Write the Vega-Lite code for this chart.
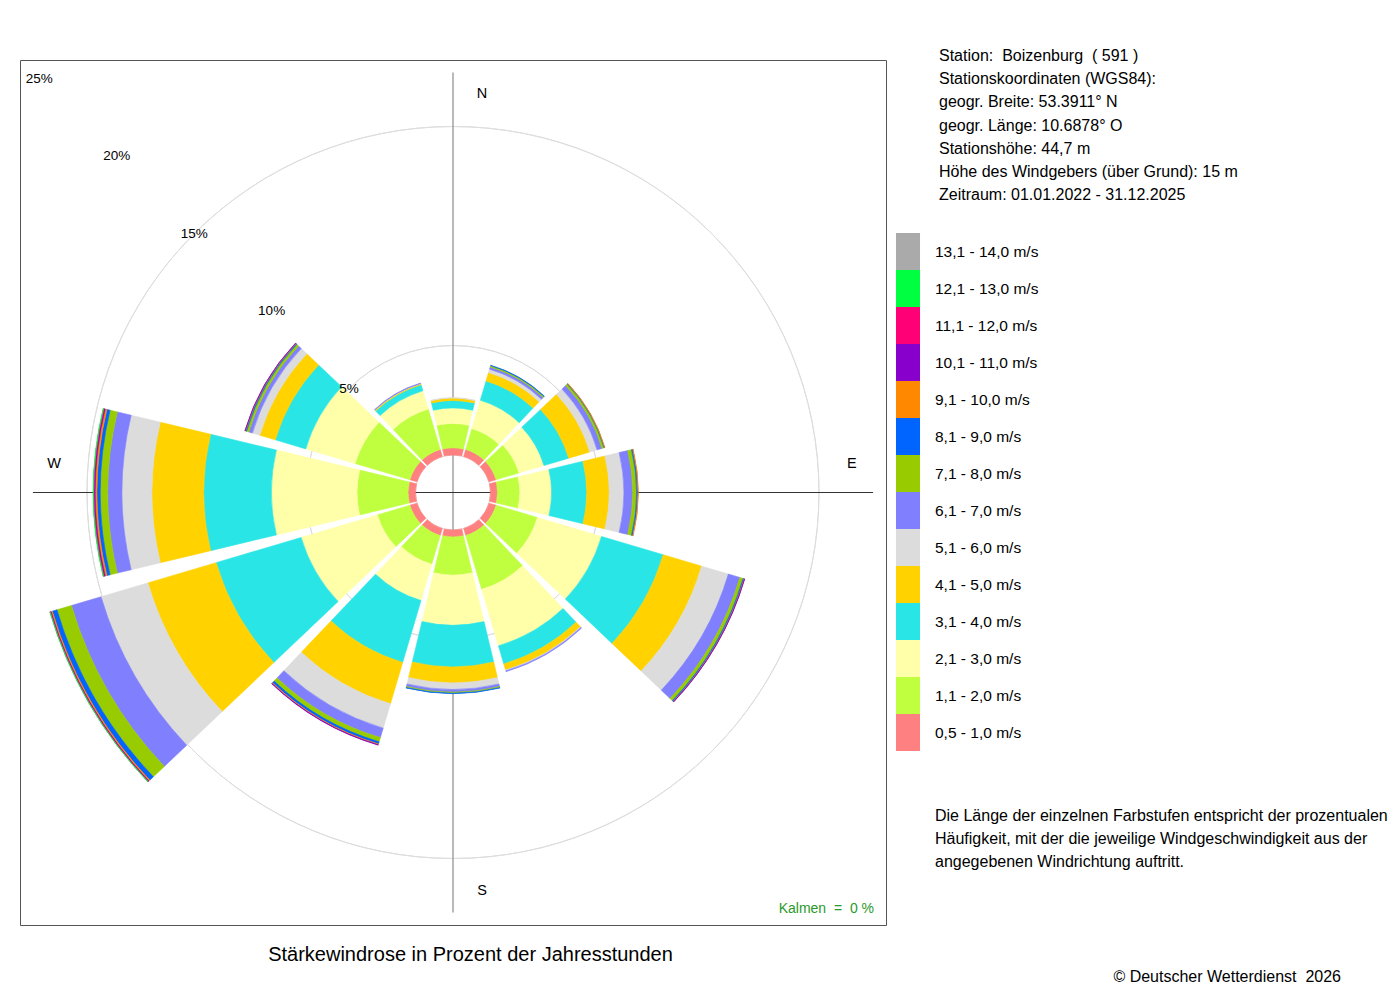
{
  "$schema": "https://vega.github.io/schema/vega-lite/v6.json",
  "width": 866,
  "height": 865,
  "autosize": {"type": "none"},
  "padding": {"left": 20, "top": 60, "right": 514, "bottom": 75},
  "background": "white",
  "view": {"stroke": "#555555", "strokeWidth": 1},
  "config": {"view": {"stroke": "#555555", "strokeWidth": 1}, "font": "Liberation Sans", "text": {"font": "Liberation Sans", "color": "#000000"}},
  "datasets": {
    "classes": [
      {"k": 1, "s": "0,5 - 1,0 m/s"}, {"k": 2, "s": "1,1 - 2,0 m/s"}, {"k": 3, "s": "2,1 - 3,0 m/s"},
      {"k": 4, "s": "3,1 - 4,0 m/s"}, {"k": 5, "s": "4,1 - 5,0 m/s"}, {"k": 6, "s": "5,1 - 6,0 m/s"},
      {"k": 7, "s": "6,1 - 7,0 m/s"}, {"k": 8, "s": "7,1 - 8,0 m/s"}, {"k": 9, "s": "8,1 - 9,0 m/s"},
      {"k": 10, "s": "9,1 - 10,0 m/s"}, {"k": 11, "s": "10,1 - 11,0 m/s"}, {"k": 12, "s": "11,1 - 12,0 m/s"},
      {"k": 13, "s": "12,1 - 13,0 m/s"}, {"k": 14, "s": "13,1 - 14,0 m/s"}
    ],
    "rose": [
      {"d": 0, "k": 1, "p": 0.33}, {"d": 0, "k": 2, "p": 1.11}, {"d": 0, "k": 3, "p": 0.71}, {"d": 0, "k": 4, "p": 0.34}, {"d": 0, "k": 5, "p": 0.11}, {"d": 0, "k": 6, "p": 0.02},
      {"d": 30, "k": 1, "p": 0.34}, {"d": 30, "k": 2, "p": 0.99}, {"d": 30, "k": 3, "p": 1.35}, {"d": 30, "k": 4, "p": 0.92}, {"d": 30, "k": 5, "p": 0.40}, {"d": 30, "k": 6, "p": 0.16}, {"d": 30, "k": 7, "p": 0.11}, {"d": 30, "k": 8, "p": 0.06}, {"d": 30, "k": 9, "p": 0.02},
      {"d": 60, "k": 1, "p": 0.34}, {"d": 60, "k": 2, "p": 1.09}, {"d": 60, "k": 3, "p": 1.19}, {"d": 60, "k": 4, "p": 1.18}, {"d": 60, "k": 5, "p": 1.00}, {"d": 60, "k": 6, "p": 0.35}, {"d": 60, "k": 7, "p": 0.23}, {"d": 60, "k": 8, "p": 0.10}, {"d": 60, "k": 9, "p": 0.03}, {"d": 60, "k": 10, "p": 0.01},
      {"d": 90, "k": 1, "p": 0.32}, {"d": 90, "k": 2, "p": 1.02}, {"d": 90, "k": 3, "p": 1.45}, {"d": 90, "k": 4, "p": 1.60}, {"d": 90, "k": 5, "p": 1.03}, {"d": 90, "k": 6, "p": 0.67}, {"d": 90, "k": 7, "p": 0.40}, {"d": 90, "k": 8, "p": 0.18}, {"d": 90, "k": 9, "p": 0.06}, {"d": 90, "k": 10, "p": 0.02},
      {"d": 120, "k": 1, "p": 0.34}, {"d": 120, "k": 2, "p": 1.97}, {"d": 120, "k": 3, "p": 3.05}, {"d": 120, "k": 4, "p": 2.94}, {"d": 120, "k": 5, "p": 1.83}, {"d": 120, "k": 6, "p": 1.27}, {"d": 120, "k": 7, "p": 0.55}, {"d": 120, "k": 8, "p": 0.15}, {"d": 120, "k": 9, "p": 0.05}, {"d": 120, "k": 10, "p": 0.02}, {"d": 120, "k": 11, "p": 0.01},
      {"d": 150, "k": 1, "p": 0.34}, {"d": 150, "k": 2, "p": 2.56}, {"d": 150, "k": 3, "p": 2.69}, {"d": 150, "k": 4, "p": 0.86}, {"d": 150, "k": 5, "p": 0.29}, {"d": 150, "k": 6, "p": 0.04}, {"d": 150, "k": 7, "p": 0.04},
      {"d": 180, "k": 1, "p": 0.32}, {"d": 180, "k": 2, "p": 1.74}, {"d": 180, "k": 3, "p": 2.29}, {"d": 180, "k": 4, "p": 1.90}, {"d": 180, "k": 5, "p": 0.73}, {"d": 180, "k": 6, "p": 0.30}, {"d": 180, "k": 7, "p": 0.12}, {"d": 180, "k": 8, "p": 0.05}, {"d": 180, "k": 9, "p": 0.02},
      {"d": 210, "k": 1, "p": 0.34}, {"d": 210, "k": 2, "p": 1.37}, {"d": 210, "k": 3, "p": 1.72}, {"d": 210, "k": 4, "p": 2.95}, {"d": 210, "k": 5, "p": 1.97}, {"d": 210, "k": 6, "p": 1.16}, {"d": 210, "k": 7, "p": 0.45}, {"d": 210, "k": 8, "p": 0.20}, {"d": 210, "k": 9, "p": 0.10}, {"d": 210, "k": 10, "p": 0.04}, {"d": 210, "k": 11, "p": 0.02},
      {"d": 240, "k": 1, "p": 0.34}, {"d": 240, "k": 2, "p": 1.55}, {"d": 240, "k": 3, "p": 3.63}, {"d": 240, "k": 4, "p": 4.05}, {"d": 240, "k": 5, "p": 3.25}, {"d": 240, "k": 6, "p": 2.23}, {"d": 240, "k": 7, "p": 1.41}, {"d": 240, "k": 8, "p": 0.69}, {"d": 240, "k": 9, "p": 0.22}, {"d": 240, "k": 10, "p": 0.06}, {"d": 240, "k": 11, "p": 0.03}, {"d": 240, "k": 12, "p": 0.02}, {"d": 240, "k": 13, "p": 0.01},
      {"d": 270, "k": 1, "p": 0.34}, {"d": 270, "k": 2, "p": 2.33}, {"d": 270, "k": 3, "p": 3.91}, {"d": 270, "k": 4, "p": 3.09}, {"d": 270, "k": 5, "p": 2.36}, {"d": 270, "k": 6, "p": 1.37}, {"d": 270, "k": 7, "p": 0.65}, {"d": 270, "k": 8, "p": 0.34}, {"d": 270, "k": 9, "p": 0.15}, {"d": 270, "k": 10, "p": 0.08}, {"d": 270, "k": 11, "p": 0.05}, {"d": 270, "k": 12, "p": 0.03}, {"d": 270, "k": 13, "p": 0.02},
      {"d": 300, "k": 1, "p": 0.34}, {"d": 300, "k": 2, "p": 2.61}, {"d": 300, "k": 3, "p": 2.35}, {"d": 300, "k": 4, "p": 1.45}, {"d": 300, "k": 5, "p": 0.74}, {"d": 300, "k": 6, "p": 0.35}, {"d": 300, "k": 7, "p": 0.17}, {"d": 300, "k": 8, "p": 0.11}, {"d": 300, "k": 9, "p": 0.05}, {"d": 300, "k": 10, "p": 0.02}, {"d": 300, "k": 11, "p": 0.01},
      {"d": 330, "k": 1, "p": 0.34}, {"d": 330, "k": 2, "p": 1.92}, {"d": 330, "k": 3, "p": 0.87}, {"d": 330, "k": 4, "p": 0.29}, {"d": 330, "k": 5, "p": 0.05}, {"d": 330, "k": 6, "p": 0.01}, {"d": 330, "k": 7, "p": 0.02}
    ]
  },
  "layer": [
    {
      "data": {"values": [{"g": 5}, {"g": 10}, {"g": 15}, {"g": 20}, {"g": 25}]},
      "mark": {"type": "arc", "filled": false, "color": "#dddddd", "strokeWidth": 1, "clip": true},
      "encoding": {
        "theta": {"datum": 0, "type": "quantitative", "scale": {"type": "linear", "domain": [0, 360], "range": [0, 6.283185307179586]}},
        "theta2": {"datum": 360},
        "radius": {"field": "g", "type": "quantitative", "scale": {"type": "linear", "domain": [0, 25], "range": [37.5, 585], "zero": false}}
      }
    },
    {
      "data": {"values": [{"d": 0}, {"d": 180}]},
      "mark": {"type": "arc", "filled": false, "color": "#8c8c8c", "strokeWidth": 1.2},
      "encoding": {
        "theta": {"field": "d", "type": "quantitative", "stack": null},
        "theta2": {"field": "d"},
        "radius": {"datum": 17.47, "type": "quantitative"},
        "radius2": {"value": 0}
      }
    },
    {
      "data": {"values": [{"d": 90}, {"d": 270}]},
      "mark": {"type": "arc", "filled": false, "color": "#333333", "strokeWidth": 1.2},
      "encoding": {
        "theta": {"field": "d", "type": "quantitative", "stack": null},
        "theta2": {"field": "d"},
        "radius": {"datum": 17.47, "type": "quantitative"},
        "radius2": {"value": 0}
      }
    },
    {
      "data": {"name": "rose"},
      "transform": [
        {"lookup": "k", "from": {"data": {"name": "classes"}, "key": "k", "fields": ["s"]}},
        {"stack": "p", "groupby": ["d"], "sort": [{"field": "k", "order": "ascending"}], "as": ["p0", "p1"]}
      ],
      "mark": {"type": "arc", "thetaOffset": -0.2356, "theta2Offset": 0.2356, "strokeWidth": 0.6},
      "encoding": {
        "theta": {"field": "d", "type": "quantitative", "stack": null},
        "theta2": {"field": "d"},
        "radius": {"field": "p1", "type": "quantitative"},
        "radius2": {"field": "p0"},
        "color": {
          "field": "s", "type": "nominal",
          "scale": {
            "domain": ["0,5 - 1,0 m/s", "1,1 - 2,0 m/s", "2,1 - 3,0 m/s", "3,1 - 4,0 m/s", "4,1 - 5,0 m/s", "5,1 - 6,0 m/s", "6,1 - 7,0 m/s", "7,1 - 8,0 m/s", "8,1 - 9,0 m/s", "9,1 - 10,0 m/s", "10,1 - 11,0 m/s", "11,1 - 12,0 m/s", "12,1 - 13,0 m/s", "13,1 - 14,0 m/s"],
            "range": ["#ff8080", "#bfff3f", "#ffffaa", "#2ae5e5", "#ffd200", "#dcdcdc", "#8080ff", "#99cc00", "#0064ff", "#ff8800", "#8800cc", "#ff0077", "#00ff40", "#aaaaaa"]
          },
          "legend": {
            "orient": "none", "legendX": 869.5, "legendY": 173, "title": null, "padding": 0, "rowPadding": 0,
            "symbolType": "M-0.65,-1H0.65V1H-0.65Z", "symbolSize": 1369, "symbolStrokeWidth": 0, "symbolOpacity": 1,
            "labelFont": "Liberation Sans", "labelFontSize": 15.5, "labelColor": "#000000", "labelOffset": 8.5, "labelLimit": 300,
            "values": ["13,1 - 14,0 m/s", "12,1 - 13,0 m/s", "11,1 - 12,0 m/s", "10,1 - 11,0 m/s", "9,1 - 10,0 m/s", "8,1 - 9,0 m/s", "7,1 - 8,0 m/s", "6,1 - 7,0 m/s", "5,1 - 6,0 m/s", "4,1 - 5,0 m/s", "3,1 - 4,0 m/s", "2,1 - 3,0 m/s", "1,1 - 2,0 m/s", "0,5 - 1,0 m/s"]
          }
        },
        "stroke": {
          "field": "s", "type": "nominal",
          "scale": {
            "domain": ["0,5 - 1,0 m/s", "1,1 - 2,0 m/s", "2,1 - 3,0 m/s", "3,1 - 4,0 m/s", "4,1 - 5,0 m/s", "5,1 - 6,0 m/s", "6,1 - 7,0 m/s", "7,1 - 8,0 m/s", "8,1 - 9,0 m/s", "9,1 - 10,0 m/s", "10,1 - 11,0 m/s", "11,1 - 12,0 m/s", "12,1 - 13,0 m/s", "13,1 - 14,0 m/s"],
            "range": ["#ff8080", "#bfff3f", "#ffffaa", "#2ae5e5", "#ffd200", "#dcdcdc", "#8080ff", "#99cc00", "#0064ff", "#ff8800", "#8800cc", "#ff0077", "#00ff40", "#aaaaaa"]
          },
          "legend": null
        }
      }
    },
    {
      "data": {"values": [{"g": 5, "t": "5%"}, {"g": 10, "t": "10%"}, {"g": 15, "t": "15%"}, {"g": 20, "t": "20%"}, {"g": 25, "t": "25%"}]},
      "mark": {"type": "text", "fontSize": 13.5, "align": "center", "baseline": "middle"},
      "encoding": {
        "theta": {"datum": 315, "type": "quantitative"},
        "radius": {"field": "g", "type": "quantitative"},
        "text": {"field": "t"}
      }
    },
    {
      "data": {"values": [{"t": "N", "d": 0}, {"t": "S", "d": 180}]},
      "mark": {"type": "text", "fontSize": 14.5, "align": "center", "baseline": "middle", "dx": 29},
      "encoding": {
        "theta": {"field": "d", "type": "quantitative", "stack": null},
        "radius": {"datum": 16.5, "type": "quantitative"},
        "text": {"field": "t"}
      }
    },
    {
      "data": {"values": [{"t": "E", "d": 90}, {"t": "W", "d": 270}]},
      "mark": {"type": "text", "fontSize": 14.5, "align": "center", "baseline": "middle", "dy": -29},
      "encoding": {
        "theta": {"field": "d", "type": "quantitative", "stack": null},
        "radius": {"datum": 16.5, "type": "quantitative"},
        "text": {"field": "t"}
      }
    },
    {
      "data": {"values": [{}]},
      "mark": {"type": "text", "x": {"expr": "width + 53"}, "y": 1, "align": "left", "baseline": "alphabetic", "fontSize": 16, "lineHeight": 23.2,
        "text": ["Station:\u00a0 Boizenburg\u00a0 ( 591 )", "Stationskoordinaten (WGS84):", "geogr. Breite: 53.3911° N", "geogr. Länge: 10.6878° O", "Stationshöhe: 44,7 m", "Höhe des Windgebers (über Grund): 15 m", "Zeitraum: 01.01.2022 - 31.12.2025"]}
    },
    {
      "data": {"values": [{}]},
      "mark": {"type": "text", "x": {"expr": "width + 49"}, "y": 760.5, "align": "left", "baseline": "alphabetic", "fontSize": 16, "lineHeight": 23.2,
        "text": ["Die Länge der einzelnen Farbstufen entspricht der prozentualen", "Häufigkeit, mit der die jeweilige Windgeschwindigkeit aus der", "angegebenen Windrichtung auftritt."]}
    },
    {
      "data": {"values": [{}]},
      "mark": {"type": "text", "x": {"expr": "width / 2 + 17.5"}, "y": {"expr": "height + 36"}, "align": "center", "baseline": "alphabetic", "fontSize": 20,
        "text": "Stärkewindrose in Prozent der Jahresstunden"}
    },
    {
      "data": {"values": [{}]},
      "mark": {"type": "text", "x": {"expr": "width + 455"}, "y": {"expr": "height + 56.5"}, "align": "right", "baseline": "alphabetic", "fontSize": 16,
        "text": "© Deutscher Wetterdienst\u00a0 2026"}
    },
    {
      "data": {"values": [{}]},
      "mark": {"type": "text", "x": {"expr": "width - 12"}, "y": {"expr": "height - 12"}, "align": "right", "baseline": "alphabetic", "fontSize": 14, "color": "#2a9a2a",
        "text": "Kalmen\u00a0 =\u00a0 0 %"}
    }
  ]
}
